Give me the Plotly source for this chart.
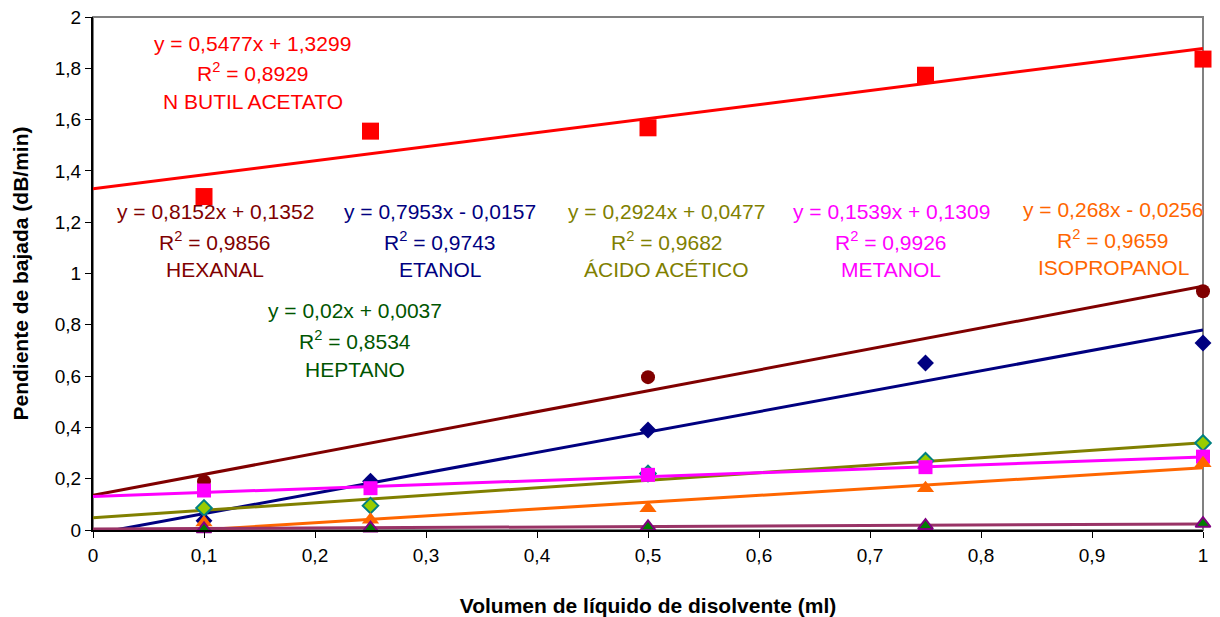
import plotly.graph_objects as go

# Measured slopes (dB/min) versus solvent volume (ml)
x_full = [0.1, 0.25, 0.5, 0.75, 1.0]

butil_x = x_full
butil_y = [1.300, 1.555, 1.568, 1.773, 1.836]

hexanal_x = [0.1, 0.5, 1.0]
hexanal_y = [0.189, 0.596, 0.931]

etanol_x = x_full
etanol_y = [0.036, 0.190, 0.390, 0.651, 0.729]

acetico_x = x_full
acetico_y = [0.086, 0.095, 0.220, 0.270, 0.339]

metanol_x = x_full
metanol_y = [0.154, 0.163, 0.215, 0.245, 0.286]

isoprop_x = x_full
isoprop_y = [0.029, 0.040, 0.085, 0.163, 0.260]

heptano_x = x_full
heptano_y = [0.004, 0.007, 0.012, 0.017, 0.025]

# Linear trendline coefficients and fit quality
names = ["N BUTIL ACETATO", "HEXANAL", "ETANOL", "ÁCIDO ACÉTICO",
         "METANOL", "ISOPROPANOL", "HEPTANO"]
slopes = [0.5477, 0.8152, 0.7953, 0.2924, 0.1539, 0.268, 0.02]
intercepts = [1.3299, 0.1352, -0.0157, 0.0477, 0.1309, -0.0256, 0.0037]
r2_values = [0.8929, 0.9856, 0.9743, 0.9682, 0.9926, 0.9659, 0.8534]

series_x = [butil_x, hexanal_x, etanol_x, acetico_x, metanol_x, isoprop_x, heptano_x]
series_y = [butil_y, hexanal_y, etanol_y, acetico_y, metanol_y, isoprop_y, heptano_y]

line_colors = ["#FF0000", "#800000", "#000080", "#808000", "#FF00FF", "#FF6600", "#993366"]
text_colors = ["#FF0000", "#800000", "#000080", "#808000", "#FF00FF", "#FF6600", "#005500"]
markers = [
    dict(symbol="square", size=17, color="#FF0000"),
    dict(symbol="circle", size=14, color="#800000"),
    dict(symbol="diamond", size=13, color="#000080"),
    dict(symbol="diamond", size=12, color="#99CC00", line=dict(color="#008080", width=2)),
    dict(symbol="square", size=14, color="#FF00FF"),
    dict(symbol="triangle-up", size=15, color="#FF6600"),
    dict(symbol="triangle-up", size=13, color="#008000", line=dict(color="#800080", width=2)),
]

# Label block centres (data coordinates): x, first-line y
label_pos = [
    (0.144, 1.898),
    (0.110, 1.242),
    (0.3126, 1.242),
    (0.517, 1.242),
    (0.719, 1.242),
    (0.919, 1.250),
    (0.236, 0.855),
]
line_step = 0.114


def num(v):
    return str(v).replace(".", ",")


def equation(m, b):
    sign = "+" if b >= 0 else "-"
    return f"y = {num(m)}x {sign} {num(abs(b))}"


fig = go.Figure()

# Trendlines
for m, b, c in zip(slopes, intercepts, line_colors):
    fig.add_trace(go.Scatter(
        x=[0, 1], y=[b, m + b], mode="lines",
        line=dict(color=c, width=3), showlegend=False, hoverinfo="skip",
    ))

# Measured points
for xs, ys, mk, n in zip(series_x, series_y, markers, names):
    fig.add_trace(go.Scatter(
        x=xs, y=ys, mode="markers", marker=mk, name=n, showlegend=False,
        cliponaxis=False,
    ))

annotations = []
for (lx, ly), m, b, r2, n, c in zip(label_pos, slopes, intercepts, r2_values, names, text_colors):
    lines = [equation(m, b), f"R<sup>2</sup> = {num(r2)}", n]
    for i, t in enumerate(lines):
        annotations.append(dict(
            x=lx, y=ly - i * line_step, xref="x", yref="y", text=t,
            showarrow=False, xanchor="center", yanchor="middle",
            font=dict(family="Liberation Sans, Arial, sans-serif", size=21, color=c),
        ))

fig.update_layout(
    width=1220, height=617,
    margin=dict(l=93, r=17, t=17, b=87),
    paper_bgcolor="white", plot_bgcolor="white",
    separators=", ",
    font=dict(family="Liberation Sans, Arial, sans-serif", size=18, color="black"),
    annotations=annotations,
    shapes=[dict(
        type="rect", xref="x domain", yref="y domain", x0=0, x1=1, y0=0, y1=1,
        line=dict(color="#808080", width=2), layer="below",
    )],
    xaxis=dict(
        range=[0, 1], tick0=0, dtick=0.1, showgrid=False, zeroline=False,
        showline=True, linecolor="black", linewidth=2, automargin=False,
        ticks="outside", ticklen=6, tickcolor="black", tickwidth=1,
        tickfont=dict(size=19), ticklabelstandoff=1,
        title=dict(text="<b>Volumen de líquido de disolvente (ml)</b>",
                   font=dict(size=21), standoff=34),
    ),
    yaxis=dict(
        range=[0, 2], tick0=0, dtick=0.2, showgrid=False, zeroline=False,
        showline=True, linecolor="black", linewidth=2, automargin=False,
        ticks="outside", ticklen=6, tickcolor="black", tickwidth=1,
        tickfont=dict(size=19),
        title=dict(text="<b>Pendiente de bajada (dB/min)</b>",
                   font=dict(size=21), standoff=20),
    ),
)

fig.write_html("out.html")
